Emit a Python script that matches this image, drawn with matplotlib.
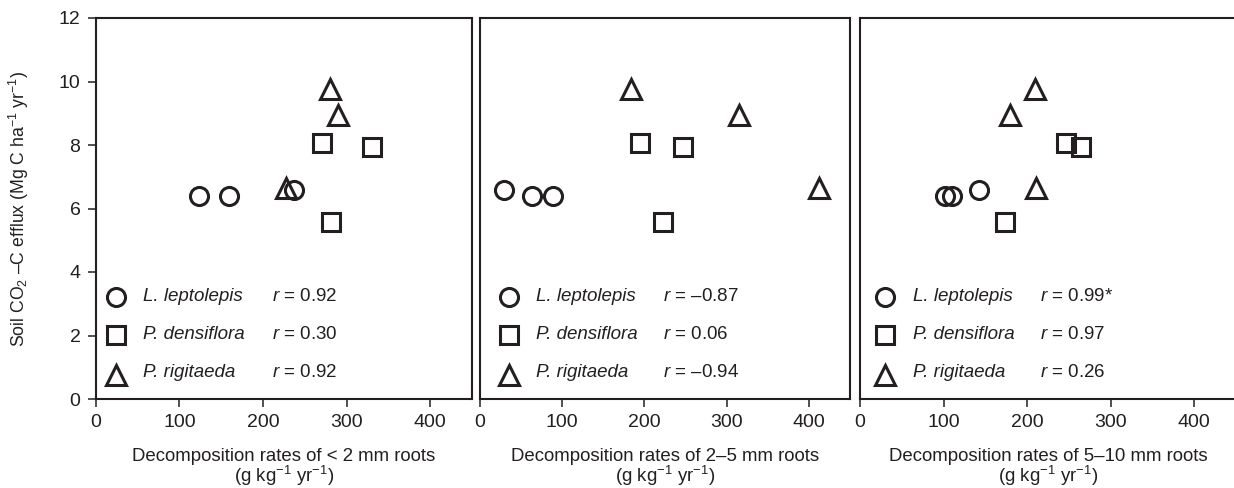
import matplotlib
matplotlib.use("Agg")
import matplotlib.pyplot as plt

plt.rcParams['font.family'] = ['Liberation Sans', 'DejaVu Sans']
plt.rcParams['mathtext.fontset'] = 'custom'
plt.rcParams['mathtext.rm'] = 'Liberation Sans'
plt.rcParams['mathtext.it'] = 'Liberation Sans:italic'

species = ["L. leptolepis", "P. densiflora", "P. rigitaeda"]
markers = ["o", "s", "^"]

# Soil CO2-C efflux per stand (Mg C ha-1 yr-1)
efflux_ll = [6.38, 6.40, 6.57]
efflux_pd = [8.05, 7.95, 5.58]
efflux_pr = [9.75, 8.93, 6.65]

# Decomposition rates (g kg-1 yr-1) by root diameter class
fine_ll = [124, 160, 237]
fine_pd = [271, 331, 281]
fine_pr = [280, 290, 228]

mid_ll = [89, 63, 29]
mid_pd = [194, 247, 222]
mid_pr = [184, 315, 412]

coarse_ll = [102, 110, 142]
coarse_pd = [247, 264, 173]
coarse_pr = [210, 180, 211]

r_fine = ["0.92", "0.30", "0.92"]
r_mid = ["\u20130.87", "0.06", "\u20130.94"]
r_coarse = ["0.99*", "0.97", "0.26"]

xlabels = ["Decomposition rates of < 2 mm roots",
           "Decomposition rates of 2\u20135 mm roots",
           "Decomposition rates of 5\u201310 mm roots"]

panels = [
    ((fine_ll, fine_pd, fine_pr), r_fine, xlabels[0]),
    ((mid_ll, mid_pd, mid_pr), r_mid, xlabels[1]),
    ((coarse_ll, coarse_pd, coarse_pr), r_coarse, xlabels[2]),
]
effluxes = [efflux_ll, efflux_pd, efflux_pr]

fig = plt.figure(figsize=(12.34, 4.88), dpi=100)
W, H = 1234, 488
boxes = [(95.7, 472), (480, 850), (860, 1236)]
top, bottom = 18, 399

legend_pos = [(0.054, 0.127, 0.468), (0.078, 0.150, 0.495), (0.066, 0.140, 0.478)]
legend_y = [0.268, 0.168, 0.070]

ink = "#231f20"
msize = {"o": 13, "s": 13.5, "^": 14}

for i, (xs_list, rvals, xlab) in enumerate(panels):
    l, r = boxes[i]
    ax = fig.add_axes([l / W, 1 - bottom / H, (r - l) / W, (bottom - top) / H])
    for xs, ys, m in zip(xs_list, effluxes, markers):
        ax.plot(xs, ys, linestyle="none", marker=m, markersize=msize[m],
                markerfacecolor="none", markeredgecolor=ink, markeredgewidth=2.2,
                clip_on=False)
    ax.set_xlim(0, 450)
    ax.set_ylim(0, 12)
    ax.set_xticks([0, 100, 200, 300, 400])
    ax.set_yticks([0, 2, 4, 6, 8, 10, 12])
    for s in ax.spines.values():
        s.set_linewidth(1.5)
        s.set_color(ink)
    ax.tick_params(direction="out", length=6, width=1.1, colors=ink,
                   labelsize=14, labelcolor=ink, pad=5)
    if i > 0:
        ax.tick_params(axis="y", left=False, labelleft=False)
    ax.set_xlabel(xlab + "\n" + r"(g kg$^{-1}$ yr$^{-1}$)", fontsize=13.4,
                  color=ink, labelpad=12, linespacing=0.95)

    mx, tx, rx = legend_pos[i]
    for j, (name, m) in enumerate(zip(species, markers)):
        yy = legend_y[j]
        ax.plot([mx], [yy - (0.008 if m == "^" else 0)], transform=ax.transAxes,
                marker=m, markersize=msize[m], markerfacecolor="none",
                markeredgecolor=ink, markeredgewidth=2.2, linestyle="none",
                clip_on=False)
        ax.text(tx, yy, name, transform=ax.transAxes, fontsize=13.5,
                style="italic", color=ink, va="center", ha="left")
        ax.text(rx, yy, r"$\it{r}$ = " + rvals[j], transform=ax.transAxes,
                fontsize=13.5, color=ink, va="center", ha="left")

    if i == 0:
        ax.set_ylabel("Soil CO$_2$ \u2013C efflux (Mg C ha$^{-1}$ yr$^{-1}$)",
                      fontsize=12.7, color=ink, labelpad=20)

fig.savefig("out.png", dpi=100)
